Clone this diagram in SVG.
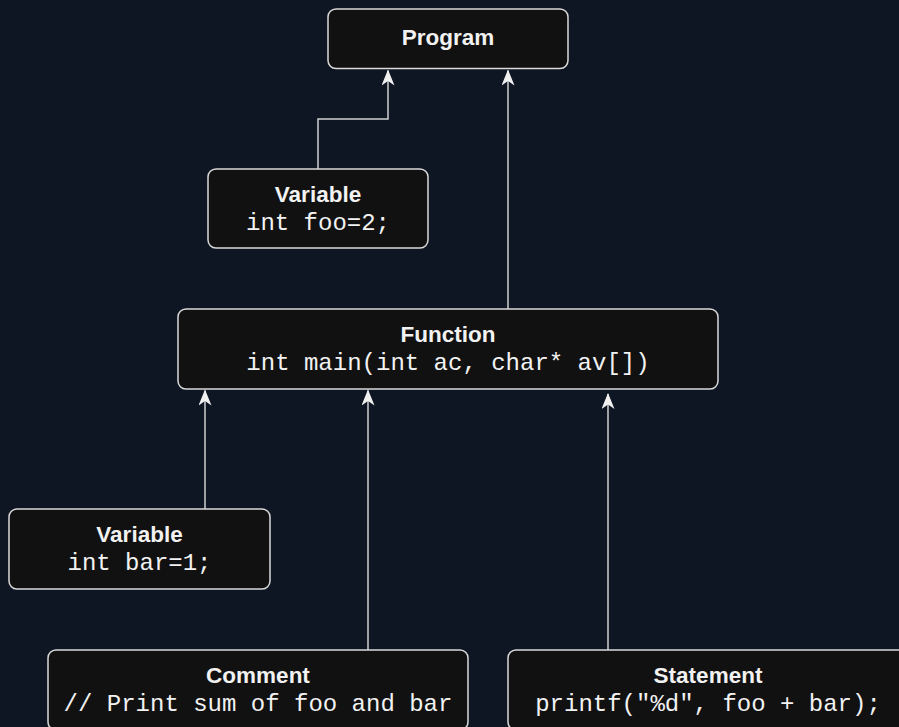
<svg xmlns="http://www.w3.org/2000/svg" width="899" height="727" viewBox="0 0 899 727">
<defs>
<style>
.box{fill:#111111;stroke:#d9d9d9;stroke-width:1.5}
.lbl{font-family:"Liberation Sans",Arial,sans-serif;font-weight:bold;font-size:22.5px;fill:#f2f2f2;text-anchor:middle}
.code{font-family:"Liberation Mono","Courier New",monospace;font-size:24px;fill:#f2f2f2;text-anchor:middle}
.edge{fill:none;stroke:#cfcfcf;stroke-width:1.5}
</style>
<marker id="arr" markerUnits="userSpaceOnUse" viewBox="0 0 16 13" markerWidth="16" markerHeight="13" refX="15" refY="6.5" orient="auto">
<path d="M16,6.5 L0,0 L4.5,6.5 L0,13 Z" fill="#f0f0f0"/>
</marker>
</defs>
<rect width="899" height="727" fill="#0f1623"/>
<g id="connectors">
<path class="edge" d="M318,169 V119 H388 V70.5" marker-end="url(#arr)"/>
<path class="edge" d="M508,309 V70.5" marker-end="url(#arr)"/>
<path class="edge" d="M205,509 V390.5" marker-end="url(#arr)"/>
<path class="edge" d="M368,650 V390.5" marker-end="url(#arr)"/>
<path class="edge" d="M608,650 V394" marker-end="url(#arr)"/>
</g>
<g id="program">
<rect class="box" x="328" y="9" width="240" height="59.5" rx="8"/>
<text class="lbl" x="448" y="45">Program</text>
</g>
<g id="var-foo">
<rect class="box" x="208" y="169" width="220" height="79" rx="8"/>
<text class="lbl" x="318" y="202">Variable</text>
<text class="code" x="318" y="230">int foo=2;</text>
</g>
<g id="function">
<rect class="box" x="178" y="309" width="540" height="80" rx="8"/>
<text class="lbl" x="448" y="342">Function</text>
<text class="code" x="448" y="370">int main(int ac, char* av[])</text>
</g>
<g id="var-bar">
<rect class="box" x="9" y="509" width="261" height="80" rx="8"/>
<text class="lbl" x="139.5" y="542">Variable</text>
<text class="code" x="139.5" y="570">int bar=1;</text>
</g>
<g id="comment">
<rect class="box" x="48" y="650" width="420" height="80" rx="8"/>
<text class="lbl" x="258" y="683">Comment</text>
<text class="code" x="258" y="711">// Print sum of foo and bar</text>
</g>
<g id="statement">
<rect class="box" x="508" y="650" width="400" height="80" rx="8"/>
<text class="lbl" x="708" y="683">Statement</text>
<text class="code" x="708" y="711">printf("%d", foo + bar);</text>
</g>
</svg>
